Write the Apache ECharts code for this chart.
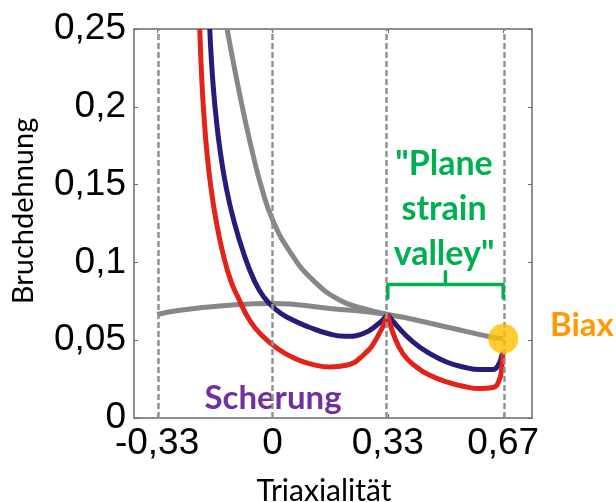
<!DOCTYPE html>
<html>
<head>
<meta charset="utf-8">
<script src="https://cdn.jsdelivr.net/npm/echarts@6/dist/echarts.min.js"></script>
<style>
  html, body { margin: 0; padding: 0; background: #fff; }
  #chart { width: 616px; height: 502px; }
</style>
</head>
<body>
<div id="chart"></div>
<script>
// Fracture strain vs. stress triaxiality
const xTickValues = [-1 / 3, 0, 1 / 3, 2 / 3];
const xTickLabels = ['-0,33', '0', '0,33', '0,67'];

// [triaxiality, fracture strain]
const grayFlat = [[-0.333, 0.0665], [-0.267, 0.0693], [-0.123, 0.0725], [0.0, 0.0736], [0.166, 0.0704],
  [0.333, 0.0665], [0.503, 0.0585], [0.638, 0.0517], [0.667, 0.051]];
const graySteep = [[-0.131, 0.25], [-0.118, 0.2344], [-0.099, 0.2129], [-0.079, 0.1915], [-0.057, 0.170],
  [-0.032, 0.1486], [0.001, 0.1271], [0.054, 0.1057], [0.117, 0.0886], [0.195, 0.0757],
  [0.262, 0.0704], [0.333, 0.0665]];
const blueLeft = [[-0.181, 0.25], [-0.1775, 0.2344], [-0.171, 0.2129], [-0.162, 0.1915], [-0.150, 0.170],
  [-0.134, 0.1486], [-0.112, 0.1271], [-0.083, 0.1057], [-0.053, 0.0886], [-0.025, 0.0778],
  [0.012, 0.0693], [0.050, 0.0639], [0.105, 0.0585], [0.160, 0.0543], [0.210, 0.0525],
  [0.262, 0.0543], [0.301, 0.0596], [0.333, 0.0665]];
const blueRight = [[0.333, 0.0665], [0.358, 0.0596], [0.406, 0.0489], [0.455, 0.0414], [0.503, 0.036],
  [0.551, 0.0328], [0.599, 0.0311], [0.637, 0.0311], [0.655, 0.035], [0.663, 0.0403], [0.666, 0.0424]];
const redLeft = [[-0.210, 0.25], [-0.2075, 0.2344], [-0.203, 0.2129], [-0.197, 0.1915], [-0.189, 0.170],
  [-0.178, 0.1486], [-0.163, 0.1271], [-0.143, 0.1057], [-0.121, 0.0886], [-0.100, 0.0778],
  [-0.066, 0.0628], [-0.031, 0.0532], [0.015, 0.0446], [0.065, 0.0382], [0.115, 0.0345],
  [0.166, 0.0328], [0.214, 0.0339], [0.262, 0.0403], [0.301, 0.0511], [0.333, 0.0665]];
const redRight = [[0.333, 0.0665], [0.349, 0.0543], [0.377, 0.0414], [0.416, 0.0328], [0.455, 0.0275],
  [0.503, 0.0232], [0.551, 0.0204], [0.599, 0.0189], [0.637, 0.0196], [0.655, 0.0242],
  [0.663, 0.0328], [0.666, 0.0414]];
const biaxPoint = [[0.667, 0.051]];

// bracket spanning the plane strain region
const bracketBar = [[1 / 3, 0.0772], [1 / 3, 0.0858], [2 / 3, 0.0858], [2 / 3, 0.0772]];
const bracketNub = [[0.5, 0.0858], [0.5, 0.094]];

const AXIS_COLOR = '#6a6a6a';
const RED = '#E2231A';
const BLUE = '#2A1B78';
const GRAY = '#878787';
const GREEN = '#00B050';

function xLabel(v) {
  let best = 0;
  for (let i = 1; i < xTickValues.length; i++) {
    if (Math.abs(xTickValues[i] - v) < Math.abs(xTickValues[best] - v)) best = i;
  }
  return xTickLabels[best];
}

function curve(data, color, z) {
  return {
    type: 'line', data: data, smooth: 0.5, showSymbol: false, symbol: 'none',
    lineStyle: { color: color, width: 5, join: 'round' }, z: z, silent: true, animation: false
  };
}

const chart = echarts.init(document.getElementById('chart'), null, { renderer: 'canvas' });

const tickFont = { fontFamily: 'Liberation Sans', fontSize: 37, color: '#000' };

chart.setOption({
  animation: false,
  grid: { left: 134, right: 84, top: 29, bottom: 84 },
  xAxis: [
    {
      type: 'value', position: 'bottom', min: -0.4, max: 0.75,
      axisLine: { onZero: false, lineStyle: { color: AXIS_COLOR, width: 1.5 } },
      axisTick: { inside: true, length: 4, customValues: xTickValues, lineStyle: { color: AXIS_COLOR } },
      axisLabel: Object.assign({ customValues: xTickValues, margin: 7, formatter: xLabel }, tickFont),
      splitLine: { show: false }
    },
    {
      type: 'value', position: 'top', min: -0.4, max: 0.75,
      axisLine: { onZero: false, lineStyle: { color: AXIS_COLOR, width: 1.5 } },
      axisTick: { inside: true, length: 4, customValues: xTickValues, lineStyle: { color: AXIS_COLOR } },
      axisLabel: { show: false },
      splitLine: { show: false }
    }
  ],
  yAxis: [
    {
      type: 'value', position: 'left', min: 0, max: 0.25, interval: 0.05,
      axisLine: { show: true, onZero: false, lineStyle: { color: AXIS_COLOR, width: 1.5 } },
      axisTick: { show: true, inside: true, length: 4, lineStyle: { color: AXIS_COLOR } },
      axisLabel: Object.assign({ margin: 8, formatter: v => String(+v.toFixed(2)).replace('.', ',') }, tickFont),
      splitLine: { show: false }
    },
    {
      type: 'value', position: 'right', min: 0, max: 0.25, interval: 0.05,
      axisLine: { show: true, onZero: false, lineStyle: { color: AXIS_COLOR, width: 1.5 } },
      axisTick: { show: true, inside: true, length: 4, lineStyle: { color: AXIS_COLOR } },
      axisLabel: { show: false },
      splitLine: { show: false }
    }
  ],
  series: [
    {
      // dashed guide lines at the characteristic triaxialities
      type: 'line', data: [], silent: true, z: 1,
      markLine: {
        silent: true, symbol: 'none', label: { show: false },
        lineStyle: { color: '#929292', width: 2.5, type: [6, 3] },
        data: xTickValues.map(v => ({ xAxis: v }))
      }
    },
    curve(graySteep, GRAY, 2),
    curve(grayFlat, GRAY, 2),
    curve(blueLeft, BLUE, 3),
    curve(blueRight, BLUE, 3),
    curve(redLeft, RED, 4),
    curve(redRight, RED, 4),
    {
      type: 'line', data: bracketBar, showSymbol: false, symbol: 'none', z: 5, silent: true,
      lineStyle: { color: GREEN, width: 3.5, cap: 'round', join: 'round' }
    },
    {
      type: 'line', data: bracketNub, showSymbol: false, symbol: 'none', z: 5, silent: true,
      lineStyle: { color: GREEN, width: 3.5, cap: 'round' }
    },
    {
      type: 'scatter', data: biaxPoint, symbol: 'circle', symbolSize: 30, z: 6, silent: true,
      itemStyle: { color: '#FFC000' }
    }
  ],
  graphic: [
    {
      type: 'text', x: 273, y: 398,
      style: { text: 'Scherung', font: 'bold 33px Lato', fill: '#7030A0', align: 'center', verticalAlign: 'middle' }
    },
    {
      type: 'text', x: 444, y: 209,
      style: { text: '"Plane\nstrain\nvalley"', font: 'bold 34px Lato', lineHeight: 45, fill: GREEN, align: 'center', verticalAlign: 'middle' }
    },
    {
      type: 'text', x: 550, y: 325,
      style: { text: 'Biax', font: 'bold 33px Lato', fill: '#FF9A00', align: 'left', verticalAlign: 'middle' }
    },
    {
      type: 'text', x: 324, y: 491,
      style: { text: 'Triaxialität', font: '30px Lato', fill: '#000', align: 'center', verticalAlign: 'middle' }
    },
    {
      type: 'text', x: 24, y: 211, rotation: Math.PI / 2,
      style: { text: 'Bruchdehnung', font: '29px Lato', fill: '#000', align: 'center', verticalAlign: 'middle' }
    }
  ]
});
</script>
</body>
</html>
